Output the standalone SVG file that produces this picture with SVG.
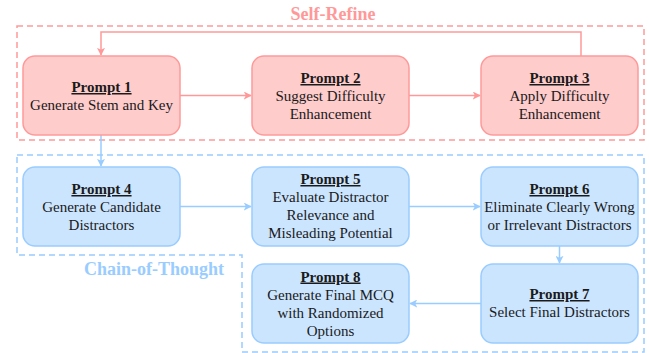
<svg xmlns="http://www.w3.org/2000/svg" width="649" height="353" viewBox="0 0 649 353">
<style>
.red{fill:#FFCCCC;stroke:#FF9999;stroke-width:1.5}
.blue{fill:#CCE5FF;stroke:#99CCFF;stroke-width:1.5}
text{font-family:'Liberation Serif','Times New Roman',serif}
.t{font-size:15px;fill:#1a1a1a;text-anchor:middle}
.h{font-weight:bold;text-decoration:underline}
.lr{fill:none;stroke:#FF9999;stroke-width:1.5}
.lb{fill:none;stroke:#99CCFF;stroke-width:1.5}
.gr{fill:none;stroke:#FF9999;stroke-width:1.5;stroke-dasharray:6 4}
.gb{fill:none;stroke:#99CCFF;stroke-width:1.5;stroke-dasharray:6 4}
.lab{font-size:18px;font-weight:bold;text-anchor:middle}
</style>
<defs>
<marker id="ar" viewBox="0 0 10 10" refX="9" refY="5" markerWidth="8" markerHeight="8" orient="auto" markerUnits="userSpaceOnUse"><path d="M0,0 L10,5 L0,10 L2.5,5 Z" fill="#FF9999"/></marker>
<marker id="ab" viewBox="0 0 10 10" refX="9" refY="5" markerWidth="8" markerHeight="8" orient="auto" markerUnits="userSpaceOnUse"><path d="M0,0 L10,5 L0,10 L2.5,5 Z" fill="#99CCFF"/></marker>
</defs>
<g id="groups">
<rect class="gr" x="17" y="26" width="627" height="114"/>
<text class="lab" x="333" y="20" fill="#FF9999">Self-Refine</text>
<path class="gb" d="M17,155 H644 V352 H242 V255 H17 Z"/>
<text class="lab" x="154" y="275" fill="#99CCFF">Chain-of-Thought</text>
</g>
<g id="connectors">
<path class="lr" d="M180,95.5 H251" marker-end="url(#ar)"/>
<path class="lr" d="M409,95.5 H480" marker-end="url(#ar)"/>
<path class="lr" d="M581,56 V32 H101 V55" marker-end="url(#ar)"/>
<path class="lb" d="M101,135 V166" marker-end="url(#ab)"/>
<path class="lb" d="M180,206.5 H251" marker-end="url(#ab)"/>
<path class="lb" d="M409,206.5 H480" marker-end="url(#ab)"/>
<path class="lb" d="M559.5,246 V263" marker-end="url(#ab)"/>
<path class="lb" d="M481,303.5 H410" marker-end="url(#ab)"/>
</g>
<g id="p1"><rect class="red" x="23" y="56" width="157" height="79" rx="12"/>
<text class="t"><tspan class="h" x="101.5" y="92">Prompt 1</tspan><tspan x="101.5" y="110">Generate Stem and Key</tspan></text></g>
<g id="p2"><rect class="red" x="252" y="56" width="157" height="79" rx="12"/>
<text class="t"><tspan class="h" x="330.5" y="83">Prompt 2</tspan><tspan x="330.5" y="101">Suggest Difficulty</tspan><tspan x="330.5" y="119">Enhancement</tspan></text></g>
<g id="p3"><rect class="red" x="481" y="56" width="157" height="79" rx="12"/>
<text class="t"><tspan class="h" x="559.5" y="83">Prompt 3</tspan><tspan x="559.5" y="101">Apply Difficulty</tspan><tspan x="559.5" y="119">Enhancement</tspan></text></g>
<g id="p4"><rect class="blue" x="23" y="167" width="157" height="79" rx="12"/>
<text class="t"><tspan class="h" x="101.5" y="194">Prompt 4</tspan><tspan x="101.5" y="212">Generate Candidate</tspan><tspan x="101.5" y="230">Distractors</tspan></text></g>
<g id="p5"><rect class="blue" x="252" y="167" width="157" height="79" rx="12"/>
<text class="t"><tspan class="h" x="330.5" y="184">Prompt 5</tspan><tspan x="330.5" y="202">Evaluate Distractor</tspan><tspan x="330.5" y="220">Relevance and</tspan><tspan x="330.5" y="238">Misleading Potential</tspan></text></g>
<g id="p6"><rect class="blue" x="481" y="167" width="157" height="79" rx="12"/>
<text class="t"><tspan class="h" x="559.5" y="194">Prompt 6</tspan><tspan x="559.5" y="212">Eliminate Clearly Wrong</tspan><tspan x="559.5" y="230">or Irrelevant Distractors</tspan></text></g>
<g id="p7"><rect class="blue" x="481" y="264" width="157" height="79" rx="12"/>
<text class="t"><tspan class="h" x="559.5" y="299">Prompt 7</tspan><tspan x="559.5" y="317">Select Final Distractors</tspan></text></g>
<g id="p8"><rect class="blue" x="252" y="264" width="157" height="79" rx="12"/>
<text class="t"><tspan class="h" x="330.5" y="281.5">Prompt 8</tspan><tspan x="330.5" y="299.5">Generate Final MCQ</tspan><tspan x="330.5" y="317.5">with Randomized</tspan><tspan x="330.5" y="335.5">Options</tspan></text></g>
</svg>
